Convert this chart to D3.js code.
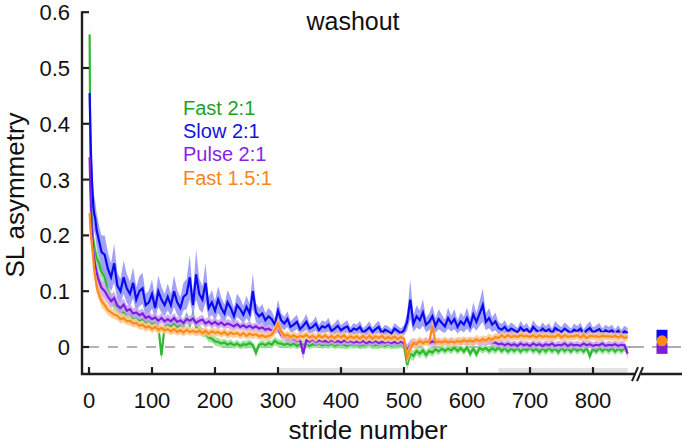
<!DOCTYPE html>
<html><head><meta charset="utf-8">
<script src="https://cdn.jsdelivr.net/npm/d3@7"></script>
<style>body{margin:0;background:#fff}svg{display:block;font-family:"Liberation Sans",Arial,sans-serif}</style>
</head><body><svg id="c" width="685" height="444"></svg>
<script>
// ---------- DATA ----------
const earlyStrides = [1,2,3,4,5,6,7,8,10,12,14,16,18,20];
const strides = earlyStrides.concat(d3.range(25, 856, 5));
const seriesNames = ["Fast 2:1","Slow 2:1","Pulse 2:1","Fast 1.5:1"];
const xTicks = [0,100,200,300,400,500,600,700,800];
const yTicks = [0,0.1,0.2,0.3,0.4,0.5,0.6];

const greenMean = [0.56,0.35,0.28,0.24,0.22,0.2,0.19,0.18,0.17,0.16,0.155,0.15,0.14,0.135,
0.125,0.1,0.088,0.076,0.072,0.064,0.062,0.058,0.06,0.052,
0.054,0.048,0.05,0.044,0.048,0.042,0.044,0.038,-0.015,0.036,
0.04,0.037,0.043,0.035,0.041,0.038,0.055,0.04,0.058,0.036,
0.033,0.026,0.024,0.017,0.015,0.01,0.009,0.006,0.008,0.004,
0.007,0.003,0.006,0.002,0.005,0.004,0.007,0.003,-0.01,0.004,
0.006,0.003,0.007,0.004,0.011,0.007,0.006,0.004,0.006,0.003,
0.006,0.002,0.005,0.004,0.006,0.002,0.005,0.004,0.006,0.003,
0.005,0.003,0.006,0.002,0.005,0.004,0.004,0.002,0.005,0.003,
0.005,0.002,0.004,0.003,0.006,0.002,0.004,0.003,0.005,0.002,
0.005,0.002,0.004,0.003,0.005,0.002,-0.032,-0.012,-0.016,-0.007,
-0.012,-0.006,-0.014,-0.007,-0.01,-0.004,-0.008,-0.003,-0.007,-0.003,
-0.006,-0.001,-0.007,-0.002,-0.008,-0.001,-0.012,-0.003,-0.013,-0.002,
-0.005,-0.002,-0.007,-0.002,-0.006,-0.001,-0.007,-0.002,-0.008,-0.003,
-0.007,-0.002,-0.008,-0.003,-0.006,-0.001,-0.007,-0.003,-0.009,-0.002,
-0.008,-0.002,-0.007,-0.003,-0.009,-0.002,-0.007,-0.003,-0.008,-0.002,
-0.007,-0.003,-0.008,-0.002,-0.016,-0.003,-0.008,-0.002,-0.007,-0.003,
-0.007,-0.002,-0.008,-0.003,-0.007,-0.002,-0.006];
const greenSd = [0.04,0.03,0.025,0.022,0.02,0.019,0.018,0.017,0.016,0.015,0.015,0.014,0.014,0.013,
0.013,0.012,0.011,0.011,0.01,0.01,0.01,0.01,0.009,0.009,
0.009,0.008,0.009,0.008,0.009,0.008,0.008,0.009,0.01,0.008,
0.008,0.009,0.008,0.009,0.008,0.009,0.01,0.008,0.01,0.008,
0.008,0.008,0.007,0.008,0.007,0.007,0.008,0.007,0.007,0.007,
0.007,0.006,0.007,0.006,0.007,0.007,0.007,0.006,0.009,0.006,
0.007,0.006,0.007,0.007,0.008,0.007,0.007,0.006,0.007,0.006,
0.007,0.006,0.007,0.007,0.007,0.006,0.007,0.006,0.007,0.006,
0.007,0.006,0.007,0.006,0.007,0.007,0.007,0.006,0.007,0.006,
0.007,0.006,0.007,0.006,0.007,0.006,0.007,0.007,0.007,0.006,
0.007,0.006,0.007,0.006,0.007,0.006,0.01,0.009,0.009,0.008,
0.008,0.007,0.008,0.007,0.008,0.006,0.007,0.006,0.007,0.006,
0.007,0.006,0.007,0.006,0.007,0.006,0.008,0.006,0.008,0.006,
0.007,0.006,0.007,0.007,0.007,0.006,0.007,0.006,0.007,0.006,
0.007,0.006,0.007,0.006,0.007,0.006,0.007,0.006,0.007,0.007,
0.007,0.006,0.007,0.006,0.007,0.006,0.007,0.006,0.007,0.006,
0.007,0.006,0.007,0.006,0.009,0.006,0.007,0.006,0.007,0.006,
0.007,0.006,0.007,0.006,0.007,0.006,0.007];

const blueMean = [0.455,0.40,0.35,0.32,0.29,0.27,0.25,0.24,0.23,0.21,0.20,0.19,0.18,0.17,
0.165,0.14,0.125,0.15,0.11,0.1,0.125,0.105,0.095,0.115,
0.085,0.1,0.105,0.075,0.08,0.095,0.07,0.1,0.085,0.075,
0.09,0.075,0.1,0.08,0.07,0.09,0.095,0.125,0.075,0.13,
0.095,0.085,0.115,0.07,0.08,0.065,0.085,0.07,0.06,0.08,
0.07,0.055,0.075,0.068,0.058,0.072,0.06,0.1,0.062,0.055,
0.06,0.048,0.055,0.05,0.04,0.065,0.048,0.042,0.05,0.036,
0.04,0.045,0.032,0.038,0.045,0.033,0.036,0.042,0.03,0.037,
0.035,0.04,0.029,0.033,0.038,0.03,0.034,0.037,0.027,0.033,
0.031,0.036,0.026,0.03,0.035,0.027,0.032,0.036,0.025,0.031,
0.028,0.024,0.033,0.029,0.025,0.03,0.045,0.085,0.042,0.055,
0.048,0.062,0.04,0.045,0.055,0.038,0.05,0.043,0.037,0.052,
0.042,0.05,0.036,0.046,0.04,0.052,0.038,0.058,0.045,0.06,
0.075,0.045,0.052,0.04,0.046,0.034,0.031,0.036,0.028,0.033,
0.03,0.026,0.035,0.029,0.032,0.025,0.036,0.03,0.027,0.033,
0.028,0.032,0.025,0.034,0.03,0.027,0.033,0.029,0.025,0.031,
0.028,0.033,0.024,0.03,0.034,0.026,0.029,0.032,0.025,0.03,
0.027,0.03,0.024,0.029,0.023,0.028,0.025];
const blueSd = [0.05,0.05,0.045,0.04,0.04,0.035,0.035,0.032,0.03,0.03,0.03,0.028,0.028,0.03,
0.035,0.03,0.025,0.035,0.024,0.022,0.03,0.026,0.022,0.028,
0.022,0.027,0.028,0.02,0.021,0.026,0.019,0.028,0.023,0.02,
0.024,0.02,0.028,0.022,0.019,0.025,0.027,0.04,0.02,0.045,
0.028,0.024,0.035,0.019,0.022,0.018,0.024,0.019,0.016,0.022,
0.019,0.015,0.021,0.019,0.016,0.02,0.017,0.032,0.017,0.015,
0.017,0.013,0.015,0.014,0.011,0.02,0.013,0.012,0.014,0.01,
0.012,0.013,0.009,0.011,0.014,0.009,0.01,0.013,0.009,0.011,
0.01,0.012,0.009,0.01,0.012,0.009,0.01,0.011,0.008,0.01,
0.009,0.011,0.008,0.009,0.011,0.008,0.01,0.011,0.008,0.009,
0.009,0.008,0.01,0.009,0.008,0.009,0.016,0.035,0.015,0.02,
0.017,0.024,0.013,0.015,0.02,0.013,0.018,0.015,0.012,0.019,
0.014,0.018,0.012,0.016,0.014,0.019,0.013,0.022,0.016,0.022,
0.03,0.015,0.018,0.013,0.016,0.011,0.01,0.012,0.009,0.011,
0.01,0.008,0.012,0.009,0.011,0.008,0.012,0.01,0.009,0.011,
0.009,0.011,0.008,0.012,0.01,0.009,0.011,0.01,0.008,0.011,
0.009,0.011,0.008,0.01,0.012,0.009,0.01,0.011,0.008,0.01,
0.009,0.01,0.008,0.01,0.008,0.01,0.009];

const purpleMean = [0.34,0.29,0.25,0.22,0.2,0.185,0.17,0.16,0.145,0.135,0.125,0.118,0.112,0.106,
0.1,0.09,0.082,0.088,0.074,0.07,0.076,0.065,0.068,0.06,
0.062,0.057,0.06,0.052,0.055,0.05,0.053,0.047,0.052,0.046,
0.05,0.046,0.052,0.045,0.048,0.043,0.05,0.047,0.051,0.043,
0.047,0.049,0.042,0.046,0.041,0.045,0.04,0.044,0.039,0.042,
0.04,0.037,0.041,0.036,0.039,0.035,0.038,0.034,0.037,0.033,
0.035,0.031,0.033,0.029,0.031,0.033,0.022,0.018,0.017,0.014,
0.015,0.011,0.013,-0.012,0.012,0.01,0.014,0.009,0.012,0.01,
0.011,0.009,0.013,0.009,0.011,0.008,0.012,0.009,0.011,0.008,
0.01,0.008,0.011,0.007,0.01,0.008,0.011,0.007,0.009,0.008,
0.01,0.007,0.009,0.007,0.01,0.007,-0.006,0.004,0.009,0.007,
0.01,0.008,0.011,0.007,0.01,0.008,0.011,0.008,0.01,0.008,
0.011,0.008,0.01,0.009,0.011,0.008,0.01,0.009,0.011,0.008,
0.01,0.009,0.011,0.008,0.008,0.005,0.006,0.003,0.006,0.003,
0.005,0.002,0.006,0.003,0.005,0.002,0.006,0.003,0.005,0.002,
0.005,0.003,0.006,0.002,0.004,0.003,0.006,0.002,0.005,0.003,
0.004,0.002,0.006,0.003,0.005,0.002,0.004,0.003,0.006,0.002,
0.004,0.003,0.005,0.002,0.004,0.003,-0.012];
const purpleSd = [0.035,0.03,0.027,0.025,0.023,0.021,0.02,0.019,0.018,0.017,0.016,0.015,0.015,0.014,
0.014,0.013,0.012,0.012,0.011,0.011,0.011,0.01,0.01,0.009,
0.01,0.009,0.009,0.008,0.009,0.008,0.009,0.008,0.009,0.008,
0.009,0.008,0.009,0.008,0.008,0.008,0.009,0.008,0.009,0.008,
0.008,0.009,0.008,0.008,0.008,0.008,0.008,0.008,0.007,0.008,
0.008,0.007,0.008,0.007,0.007,0.007,0.008,0.007,0.007,0.007,
0.007,0.007,0.007,0.007,0.007,0.008,0.007,0.007,0.007,0.007,
0.007,0.006,0.007,0.012,0.007,0.006,0.007,0.006,0.007,0.006,
0.007,0.006,0.007,0.007,0.006,0.006,0.007,0.006,0.007,0.006,
0.007,0.006,0.007,0.006,0.007,0.007,0.006,0.006,0.007,0.006,
0.007,0.006,0.007,0.006,0.007,0.006,0.011,0.009,0.007,0.006,
0.007,0.006,0.007,0.006,0.007,0.007,0.006,0.006,0.007,0.006,
0.007,0.006,0.007,0.006,0.007,0.006,0.007,0.007,0.006,0.006,
0.007,0.006,0.007,0.006,0.007,0.006,0.007,0.006,0.007,0.006,
0.007,0.006,0.007,0.007,0.006,0.006,0.007,0.006,0.007,0.006,
0.007,0.006,0.007,0.006,0.007,0.006,0.007,0.007,0.006,0.006,
0.007,0.006,0.007,0.006,0.007,0.006,0.007,0.006,0.007,0.006,
0.007,0.006,0.007,0.006,0.007,0.006,0.01];

const orangeMean = [0.24,0.22,0.2,0.19,0.18,0.17,0.155,0.14,0.125,0.11,0.1,0.095,0.088,0.082,
0.075,0.066,0.062,0.058,0.056,0.05,0.052,0.046,0.047,0.042,
0.043,0.038,0.04,0.035,0.037,0.032,0.036,0.031,0.034,0.03,
0.032,0.028,0.032,0.027,0.03,0.026,0.031,0.027,0.029,0.026,
0.029,0.025,0.029,0.024,0.028,0.025,0.027,0.023,0.027,0.022,
0.026,0.023,0.025,0.021,0.025,0.02,0.024,0.021,0.023,0.019,
0.021,0.018,0.02,0.022,0.03,0.042,0.028,0.02,0.022,0.018,
0.021,0.017,0.02,0.018,0.022,0.017,0.02,0.016,0.021,0.017,
0.021,0.016,0.02,0.016,0.021,0.017,0.021,0.015,0.019,0.016,
0.019,0.015,0.02,0.015,0.02,0.015,0.019,0.016,0.02,0.015,
0.018,0.015,0.019,0.014,0.018,0.015,-0.018,-0.002,0.007,0.005,
0.011,0.007,0.01,0.008,0.038,0.008,0.01,0.008,0.011,0.008,
0.01,0.008,0.011,0.009,0.012,0.01,0.012,0.01,0.014,0.011,
0.014,0.012,0.016,0.013,0.018,0.016,0.021,0.017,0.021,0.018,
0.02,0.018,0.021,0.019,0.02,0.018,0.021,0.017,0.021,0.018,
0.02,0.018,0.019,0.018,0.022,0.017,0.021,0.018,0.019,0.019,
0.021,0.017,0.021,0.016,0.02,0.019,0.019,0.018,0.02,0.019,
0.019,0.018,0.02,0.017,0.02,0.016,0.018];
const orangeSd = [0.025,0.022,0.02,0.019,0.018,0.017,0.016,0.015,0.014,0.013,0.012,0.012,0.011,0.011,
0.01,0.009,0.009,0.008,0.008,0.008,0.008,0.007,0.008,0.007,
0.007,0.007,0.008,0.007,0.007,0.007,0.007,0.008,0.007,0.007,
0.007,0.007,0.008,0.007,0.007,0.007,0.008,0.007,0.007,0.007,
0.008,0.007,0.007,0.007,0.007,0.008,0.007,0.007,0.007,0.007,
0.008,0.007,0.007,0.007,0.007,0.007,0.008,0.007,0.007,0.007,
0.007,0.007,0.007,0.007,0.009,0.01,0.008,0.007,0.007,0.007,
0.007,0.007,0.008,0.007,0.007,0.007,0.007,0.008,0.007,0.007,
0.007,0.007,0.007,0.008,0.007,0.007,0.007,0.007,0.008,0.007,
0.007,0.007,0.007,0.007,0.008,0.007,0.007,0.007,0.007,0.007,
0.008,0.007,0.007,0.007,0.007,0.007,0.012,0.01,0.009,0.008,
0.008,0.007,0.007,0.007,0.011,0.007,0.007,0.007,0.008,0.007,
0.007,0.007,0.007,0.008,0.007,0.007,0.007,0.007,0.008,0.007,
0.007,0.007,0.008,0.007,0.007,0.007,0.007,0.008,0.007,0.007,
0.007,0.007,0.007,0.008,0.007,0.007,0.007,0.007,0.008,0.007,
0.007,0.008,0.007,0.007,0.007,0.007,0.008,0.007,0.007,0.007,
0.007,0.007,0.008,0.007,0.007,0.007,0.007,0.008,0.007,0.007,
0.007,0.007,0.007,0.008,0.007,0.007,0.007];

// steady-state (after break) mean and error, order: green, blue, purple, orange
const ssMean = [0.002, 0.021, -0.0025, 0.011];
const ssErr  = [0.004, 0.006, 0.006, 0.006];

// ---------- STYLE ----------
const lineColors = ["#2fb82f","#0a0af2","#7a1ee0","#ff8a17"];
const bandColors = ["#8fe08f","#9090f6","#c9a0f2","#ffc68e"];
const textColors = ["#22a022","#1212e0","#8a1fe6","#f78620"];

const svg = d3.select("#c");
const x = d3.scaleLinear().domain([0,800]).range([89,593]);
const y = d3.scaleLinear().domain([0,0.6]).range([347,12.2]);
const yBottom = y(-0.0485);
const axisLeftX = 82;

// grey bars along x-axis
[[300,500],[650,855]].forEach(([a,b])=>{
  svg.append("rect").attr("x",x(a)).attr("y",yBottom-6).attr("width",x(b)-x(a)).attr("height",6).attr("fill","#e2e2e2");
});

// dashed zero line
svg.append("line").attr("x1",axisLeftX+7).attr("x2",x(860)).attr("y1",y(0)).attr("y2",y(0))
  .attr("stroke","#9a9a9a").attr("stroke-width",1.6).attr("stroke-dasharray","10,9");
svg.append("line").attr("x1",x(857)).attr("x2",644).attr("y1",y(0)).attr("y2",y(0))
  .attr("stroke","#9a9a9a").attr("stroke-width",1.6);
svg.append("line").attr("x1",652).attr("x2",681).attr("y1",y(0)).attr("y2",y(0))
  .attr("stroke","#9a9a9a").attr("stroke-width",1.6);

const series = [
  {mean:greenMean, sd:greenSd},
  {mean:blueMean, sd:blueSd},
  {mean:purpleMean, sd:purpleSd},
  {mean:orangeMean, sd:orangeSd}
];
series.forEach((s,i)=>{
  const n = Math.min(strides.length, s.mean.length, s.sd.length);
  const pts = d3.range(n).map(k=>({s:strides[k], m:s.mean[k], e:s.sd[k]}));
  svg.append("path").datum(pts)
    .attr("d", d3.area().x(d=>x(d.s)).y0(d=>y(d.m-d.e)).y1(d=>y(d.m+d.e)))
    .attr("fill", bandColors[i]).attr("opacity",0.85);
  svg.append("path").datum(pts)
    .attr("d", d3.line().x(d=>x(d.s)).y(d=>y(d.m)))
    .attr("fill","none").attr("stroke",lineColors[i]).attr("stroke-width",2.2).attr("stroke-linejoin","miter");
});

// steady-state markers
const ssX = 662;
[0,1,2,3].forEach(i=>{
  svg.append("line").attr("x1",ssX).attr("x2",ssX).attr("y1",y(ssMean[i]-ssErr[i])).attr("y2",y(ssMean[i]+ssErr[i]))
    .attr("stroke",lineColors[i]).attr("stroke-width",1.5);
});
[0,1,2].forEach(i=>{
  const cy = y(ssMean[i]);
  if(i===0){
    svg.append("circle").attr("cx",ssX).attr("cy",cy).attr("r",4.5).attr("fill",lineColors[i]);
  } else {
    svg.append("rect").attr("x",ssX-5.5).attr("y",cy-5.5).attr("width",11).attr("height",11).attr("fill",lineColors[i]);
  }
});
svg.append("circle").attr("cx",ssX).attr("cy",y(ssMean[3])).attr("r",5.5).attr("fill",lineColors[3]);

// axes
const axisColor = "#1e1e1e";
svg.append("line").attr("x1",axisLeftX).attr("x2",axisLeftX).attr("y1",y(0.6)-1).attr("y2",yBottom+1)
  .attr("stroke",axisColor).attr("stroke-width",2.4);
svg.append("line").attr("x1",axisLeftX-1).attr("x2",636).attr("y1",yBottom).attr("y2",yBottom)
  .attr("stroke",axisColor).attr("stroke-width",2.4);
svg.append("line").attr("x1",641).attr("x2",682).attr("y1",yBottom).attr("y2",yBottom)
  .attr("stroke",axisColor).attr("stroke-width",2.4);
// break marks
[[632,638],[637,643]].forEach(([a,b])=>{
  svg.append("line").attr("x1",a).attr("y1",yBottom+7).attr("x2",b).attr("y2",yBottom-7)
    .attr("stroke",axisColor).attr("stroke-width",2);
});

// y ticks
yTicks.forEach(t=>{
  svg.append("line").attr("x1",axisLeftX).attr("x2",axisLeftX+7).attr("y1",y(t)).attr("y2",y(t))
    .attr("stroke",axisColor).attr("stroke-width",2.2);
  svg.append("text").attr("x",70).attr("y",y(t)).attr("dy","0.36em").attr("text-anchor","end")
    .attr("font-size",22).attr("fill","#111").text(t===0?"0":d3.format(".1f")(t));
});
// x ticks
xTicks.forEach(t=>{
  svg.append("line").attr("x1",x(t)).attr("x2",x(t)).attr("y1",yBottom).attr("y2",yBottom-7)
    .attr("stroke",axisColor).attr("stroke-width",2.2);
  svg.append("text").attr("x",x(t)).attr("y",408).attr("text-anchor","middle")
    .attr("font-size",22).attr("fill","#111").text(t);
});

// labels
svg.append("text").attr("x",368).attr("y",439).attr("text-anchor","middle").attr("font-size",26).attr("fill","#111").text("stride number");
svg.append("text").attr("transform","translate(24,195) rotate(-90)").attr("text-anchor","middle").attr("font-size",26).attr("fill","#111").text("SL asymmetry");
svg.append("text").attr("x",353).attr("y",30).attr("text-anchor","middle").attr("font-size",25).attr("fill","#111").text("washout");

// legend
seriesNames.forEach((nm,i)=>{
  svg.append("text").attr("x",183).attr("y",115+i*23.2).attr("font-size",20).attr("fill",textColors[i]).text(nm);
});
</script></body></html>
